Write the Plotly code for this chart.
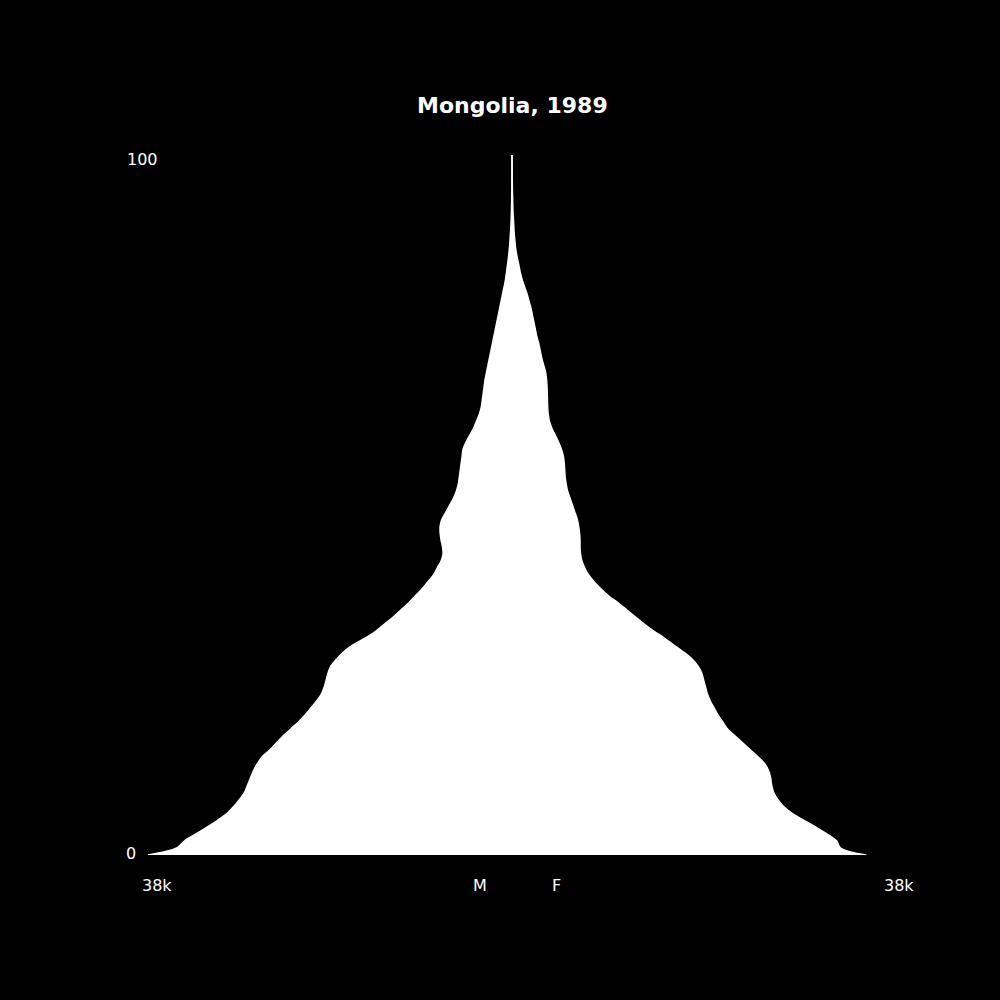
import plotly.graph_objects as go

# Population by single year of age (thousands)
ages = list(range(0, 101))

male = [38.0, 35.0, 34.2, 33.0, 31.8, 30.7, 29.7, 29.0, 28.4, 27.9,
        27.6, 27.3, 27.0, 26.6, 26.1, 25.3, 24.6, 23.9, 23.1, 22.3,
        21.6, 21.0, 20.4, 19.9, 19.6, 19.4, 19.2, 18.9, 18.3, 17.6,
        16.6, 15.3, 14.2, 13.3, 12.4, 11.6, 10.8, 10.1, 9.4, 8.8,
        8.2, 7.8, 7.4, 7.2, 7.25, 7.4, 7.5, 7.5, 7.3, 6.9,
        6.5, 6.1, 5.8, 5.6, 5.5, 5.4, 5.3, 5.2, 5.1, 4.8,
        4.4, 4.0, 3.7, 3.4, 3.2, 3.1, 3.0, 2.9, 2.8, 2.65,
        2.5, 2.35, 2.2, 2.05, 1.9, 1.75, 1.6, 1.45, 1.3, 1.15,
        1.0, 0.85, 0.7, 0.6, 0.5, 0.4, 0.32, 0.25, 0.2, 0.15,
        0.11, 0.08, 0.06, 0.04, 0.03, 0.02, 0.015, 0.01, 0.005, 0.003,
        0.002]

female = [37.0, 34.3, 33.9, 32.9, 31.7, 30.4, 29.2, 28.3, 27.7, 27.3,
          27.1, 27.0, 26.8, 26.4, 25.7, 24.9, 24.1, 23.3, 22.5, 22.0,
          21.5, 21.1, 20.7, 20.4, 20.2, 20.0, 19.8, 19.4, 18.8, 17.9,
          16.9, 15.9, 14.8, 13.8, 12.9, 12.0, 11.1, 10.1, 9.3, 8.6,
          8.0, 7.6, 7.3, 7.15, 7.1, 7.1, 7.05, 6.95, 6.8, 6.55,
          6.3, 6.05, 5.8, 5.65, 5.55, 5.5, 5.45, 5.35, 5.15, 4.85,
          4.5, 4.15, 3.9, 3.78, 3.72, 3.7, 3.68, 3.65, 3.6, 3.5,
          3.3, 3.1, 2.95, 2.8, 2.6, 2.45, 2.3, 2.15, 2.0, 1.8,
          1.6, 1.35, 1.1, 0.9, 0.75, 0.6, 0.45, 0.35, 0.28, 0.22,
          0.18, 0.14, 0.1, 0.08, 0.06, 0.04, 0.03, 0.02, 0.015, 0.01,
          0.01]

title_text = "Mongolia, 1989"
x_max = 38.0
x_tick_label = "38k"
y_tick_labels = ["0", "100"]
sex_labels = ["M", "F"]

FONT = "DejaVu Sans"
W, H = 1000, 1000
L, R, T, B = 148, 876, 155, 855


def px(xp):
    return (xp - L) / (R - L)


def py(yp):
    return (B - yp) / (B - T)


fig = go.Figure()
fig.add_trace(go.Scatter(
    x=[-v for v in male], y=ages, mode="lines",
    line=dict(color="white", width=1.5, shape="spline"),
    fill="tozerox", fillcolor="white", hoverinfo="skip", showlegend=False))
fig.add_trace(go.Scatter(
    x=female, y=ages, mode="lines",
    line=dict(color="white", width=1.5, shape="spline"),
    fill="tozerox", fillcolor="white", hoverinfo="skip", showlegend=False))

ann = []
ann.append(dict(text=f"<b>{title_text}</b>", x=px(512), y=py(105), xref="paper", yref="paper",
                xanchor="center", yanchor="middle", showarrow=False,
                font=dict(family=FONT, size=22, color="white")))
ann.append(dict(text=y_tick_labels[1], x=px(125), y=py(160), xref="paper", yref="paper",
                xanchor="left", yanchor="middle", showarrow=False,
                font=dict(family=FONT, size=16, color="white")))
ann.append(dict(text=y_tick_labels[0], x=px(124), y=py(853), xref="paper", yref="paper",
                xanchor="left", yanchor="middle", showarrow=False,
                font=dict(family=FONT, size=16, color="white")))
ann.append(dict(text=x_tick_label, x=px(140), y=py(885), xref="paper", yref="paper",
                xanchor="left", yanchor="middle", showarrow=False,
                font=dict(family=FONT, size=16, color="white")))
ann.append(dict(text=x_tick_label, x=px(916), y=py(885), xref="paper", yref="paper",
                xanchor="right", yanchor="middle", showarrow=False,
                font=dict(family=FONT, size=16, color="white")))
ann.append(dict(text=sex_labels[0], x=px(480), y=py(885), xref="paper", yref="paper",
                xanchor="center", yanchor="middle", showarrow=False,
                font=dict(family=FONT, size=16, color="white")))
ann.append(dict(text=sex_labels[1], x=px(556), y=py(885), xref="paper", yref="paper",
                xanchor="center", yanchor="middle", showarrow=False,
                font=dict(family=FONT, size=16, color="white")))

fig.update_layout(
    width=W, height=H,
    paper_bgcolor="black", plot_bgcolor="black",
    margin=dict(l=L, r=W - R, t=T, b=H - B, pad=0),
    xaxis=dict(range=[-x_max, x_max], visible=False, fixedrange=True),
    yaxis=dict(range=[0, 100], visible=False, fixedrange=True),
    annotations=ann,
    showlegend=False,
)

fig.write_html(
    "out.html",
    config={"displayModeBar": False},
    post_script="document.body.style.margin='0';document.body.style.background='black';",
)
